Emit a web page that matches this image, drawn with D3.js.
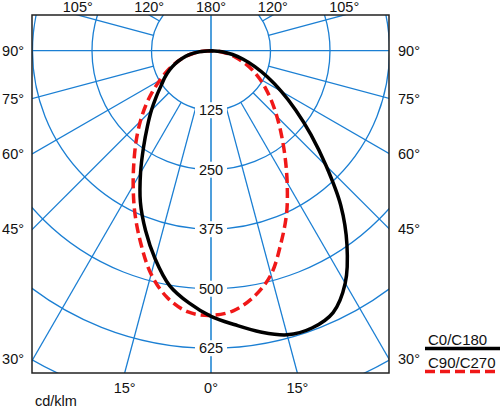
<!DOCTYPE html>
<html>
<head>
<meta charset="utf-8">
<script src="https://cdn.jsdelivr.net/npm/d3@7"></script>
<style>
  body { margin: 0; background: #fff; }
  text { font-family: "Liberation Sans", Arial, sans-serif; fill: #111; }
</style>
</head>
<body>
<div id="chart"></div>
<script>
// gamma angles (degrees from nadir) and intensities in cd/klm
var gammas = [0, 5, 10, 15, 20, 25, 30, 35, 40, 45, 50, 55, 60, 65, 70, 75, 80, 85, 90];
var c0   = [558, 578, 600, 618, 620, 607, 564, 498, 424, 342, 274, 217, 170, 131, 98, 70, 46, 23, 0];
var c180 = [558, 532, 501, 453, 402, 351, 296, 247, 208, 177, 150, 128, 112, 96, 80, 63, 45, 24, 0];
var c90  = [556, 548, 524, 487, 430, 376, 320, 271, 230, 196, 167, 141, 118, 96, 74, 54, 36, 18, 0];
var c270 = [556, 551, 527, 486, 431, 378, 327, 282, 244, 210, 179, 150, 124, 102, 82, 63, 43, 22, 0];

var rings = [125, 250, 375, 500, 625, 750];
var ringLabels = [125, 250, 375, 500, 625];
var spokes = [15, 30, 45, 60, 75, 105, 120, 135, 150, 165];
var sideLabels = [30, 45, 60, 75, 90];
var topLabels = [105, 120];
var bottomLabels = [15];
var legendNames = ["C0/C180", "C90/C270"];

var W = 500, H = 409;
var frame = {left: 32, right: 389, top: 15, bottom: 373};
var cx = 211, cy = 50.7;

var svg = d3.select("#chart").append("svg")
    .attr("width", W)
    .attr("height", H);

var r = d3.scaleLinear().domain([0, 125]).range([0, 59.5]);
var rad = function(deg) { return deg * Math.PI / 180; };
var blue = "#1b7fd3";

svg.append("clipPath").attr("id", "frameClip")
  .append("rect")
    .attr("x", frame.left).attr("y", frame.top)
    .attr("width", frame.right - frame.left)
    .attr("height", frame.bottom - frame.top);

var grid = svg.append("g").attr("clip-path", "url(#frameClip)");

// circles
grid.selectAll(".ring")
  .data(rings).enter()
  .append("circle")
    .attr("cx", cx).attr("cy", cy)
    .attr("r", function(d) { return r(d); })
    .style("fill", "none")
    .style("stroke", blue)
    .style("stroke-width", 1.3);

// spokes every 15 degrees, from first ring outward, both halves
var spokeData = [];
spokes.forEach(function(a) { spokeData.push({a: a, s: 1}); spokeData.push({a: a, s: -1}); });
grid.selectAll(".spoke")
  .data(spokeData).enter()
  .append("line")
    .attr("x1", function(d) { return cx + d.s * r(125) * Math.sin(rad(d.a)); })
    .attr("y1", function(d) { return cy + r(125) * Math.cos(rad(d.a)); })
    .attr("x2", function(d) { return cx + d.s * 800 * Math.sin(rad(d.a)); })
    .attr("y2", function(d) { return cy + 800 * Math.cos(rad(d.a)); })
    .style("stroke", blue)
    .style("stroke-width", 1.3);

// 90 degree line and 0/180 line through the centre
grid.append("line")
    .attr("x1", frame.left).attr("x2", frame.right)
    .attr("y1", cy).attr("y2", cy)
    .style("stroke", blue).style("stroke-width", 1.3);
grid.append("line")
    .attr("x1", cx).attr("x2", cx)
    .attr("y1", frame.top).attr("y2", frame.bottom)
    .style("stroke", "#4f9fdc").style("stroke-width", 2);

// curves
function halfPoints(left, right) {
  var pts = [];
  for (var i = gammas.length - 1; i >= 0; i--) pts.push({a: Math.PI + rad(gammas[i]), v: left[i]});
  for (var j = 1; j < gammas.length; j++) pts.push({a: Math.PI - rad(gammas[j]), v: right[j]});
  return pts;
}

var radial = d3.lineRadial()
    .angle(function(d) { return d.a; })
    .radius(function(d) { return r(d.v); })
    .curve(d3.curveCatmullRom.alpha(0.5));

var curves = svg.append("g").attr("transform", "translate(" + cx + "," + cy + ")");

curves.append("path")
    .attr("d", radial(halfPoints(c270, c90)))
    .style("fill", "none")
    .style("stroke", "#f01818")
    .style("stroke-width", 3.5)
    .style("stroke-dasharray", "10,5");

curves.append("path")
    .attr("d", radial(halfPoints(c180, c0)))
    .style("fill", "none")
    .style("stroke", "#000")
    .style("stroke-width", 3.5);

// ring labels with white boxes
var lab = svg.selectAll(".ringLabel")
  .data(ringLabels).enter()
  .append("g")
    .attr("transform", function(d) { return "translate(" + cx + "," + (cy + r(d)) + ")"; });
lab.append("rect")
    .attr("x", -16).attr("y", -8).attr("width", 32).attr("height", 16)
    .style("fill", "#fff");
lab.append("text")
    .attr("text-anchor", "middle")
    .attr("dy", "0.36em")
    .style("font-size", "14.5px")
    .text(function(d) { return d; });

// frame
svg.append("rect")
    .attr("x", frame.left).attr("y", frame.top)
    .attr("width", frame.right - frame.left)
    .attr("height", frame.bottom - frame.top)
    .style("fill", "none")
    .style("stroke", "#222")
    .style("stroke-width", 1.5);

// angle labels
var side = [];
sideLabels.forEach(function(a) {
  var dx = frame.right - cx;
  var y = cy + dx / Math.tan(rad(a));
  side.push({a: a, x: frame.left - 8, y: y, anchor: "end"});
  side.push({a: a, x: frame.right + 9, y: y, anchor: "start"});
});
topLabels.forEach(function(a) {
  var dy = cy - frame.top;
  var dx = dy * Math.tan(rad(180 - a));
  side.push({a: a, x: cx - dx, y: 7, anchor: "middle"});
  side.push({a: a, x: cx + dx, y: 7, anchor: "middle"});
});
side.push({a: 180, x: cx, y: 7, anchor: "middle"});
bottomLabels.forEach(function(a) {
  var dx = (frame.bottom - cy) * Math.tan(rad(a));
  side.push({a: a, x: cx - dx, y: 388, anchor: "middle"});
  side.push({a: a, x: cx + dx, y: 388, anchor: "middle"});
});
side.push({a: 0, x: cx, y: 388, anchor: "middle"});

svg.selectAll(".angleLabel")
  .data(side).enter()
  .append("text")
    .attr("x", function(d) { return d.x; })
    .attr("y", function(d) { return d.y; })
    .attr("dy", "0.36em")
    .attr("text-anchor", function(d) { return d.anchor; })
    .style("font-size", "14.5px")
    .text(function(d) { return d.a + "°"; });

svg.append("text")
    .attr("x", 35).attr("y", 401)
    .attr("dy", "0.36em")
    .style("font-size", "14.5px")
    .text("cd/klm");

// legend
var leg = svg.selectAll(".legend")
  .data(legendNames).enter()
  .append("g")
    .attr("transform", function(d, i) { return "translate(0," + (i * 23) + ")"; });
leg.append("text")
    .attr("x", 428).attr("y", 340)
    .attr("dy", "0.36em")
    .style("font-size", "15px")
    .text(function(d) { return d; });
leg.append("line")
    .attr("x1", 425).attr("x2", 500)
    .attr("y1", 348.5).attr("y2", 348.5)
    .style("stroke", function(d, i) { return i ? "#f01818" : "#000"; })
    .style("stroke-width", 3.5)
    .style("stroke-dasharray", function(d, i) { return i ? "10,5" : null; });
</script>
</body>
</html>
